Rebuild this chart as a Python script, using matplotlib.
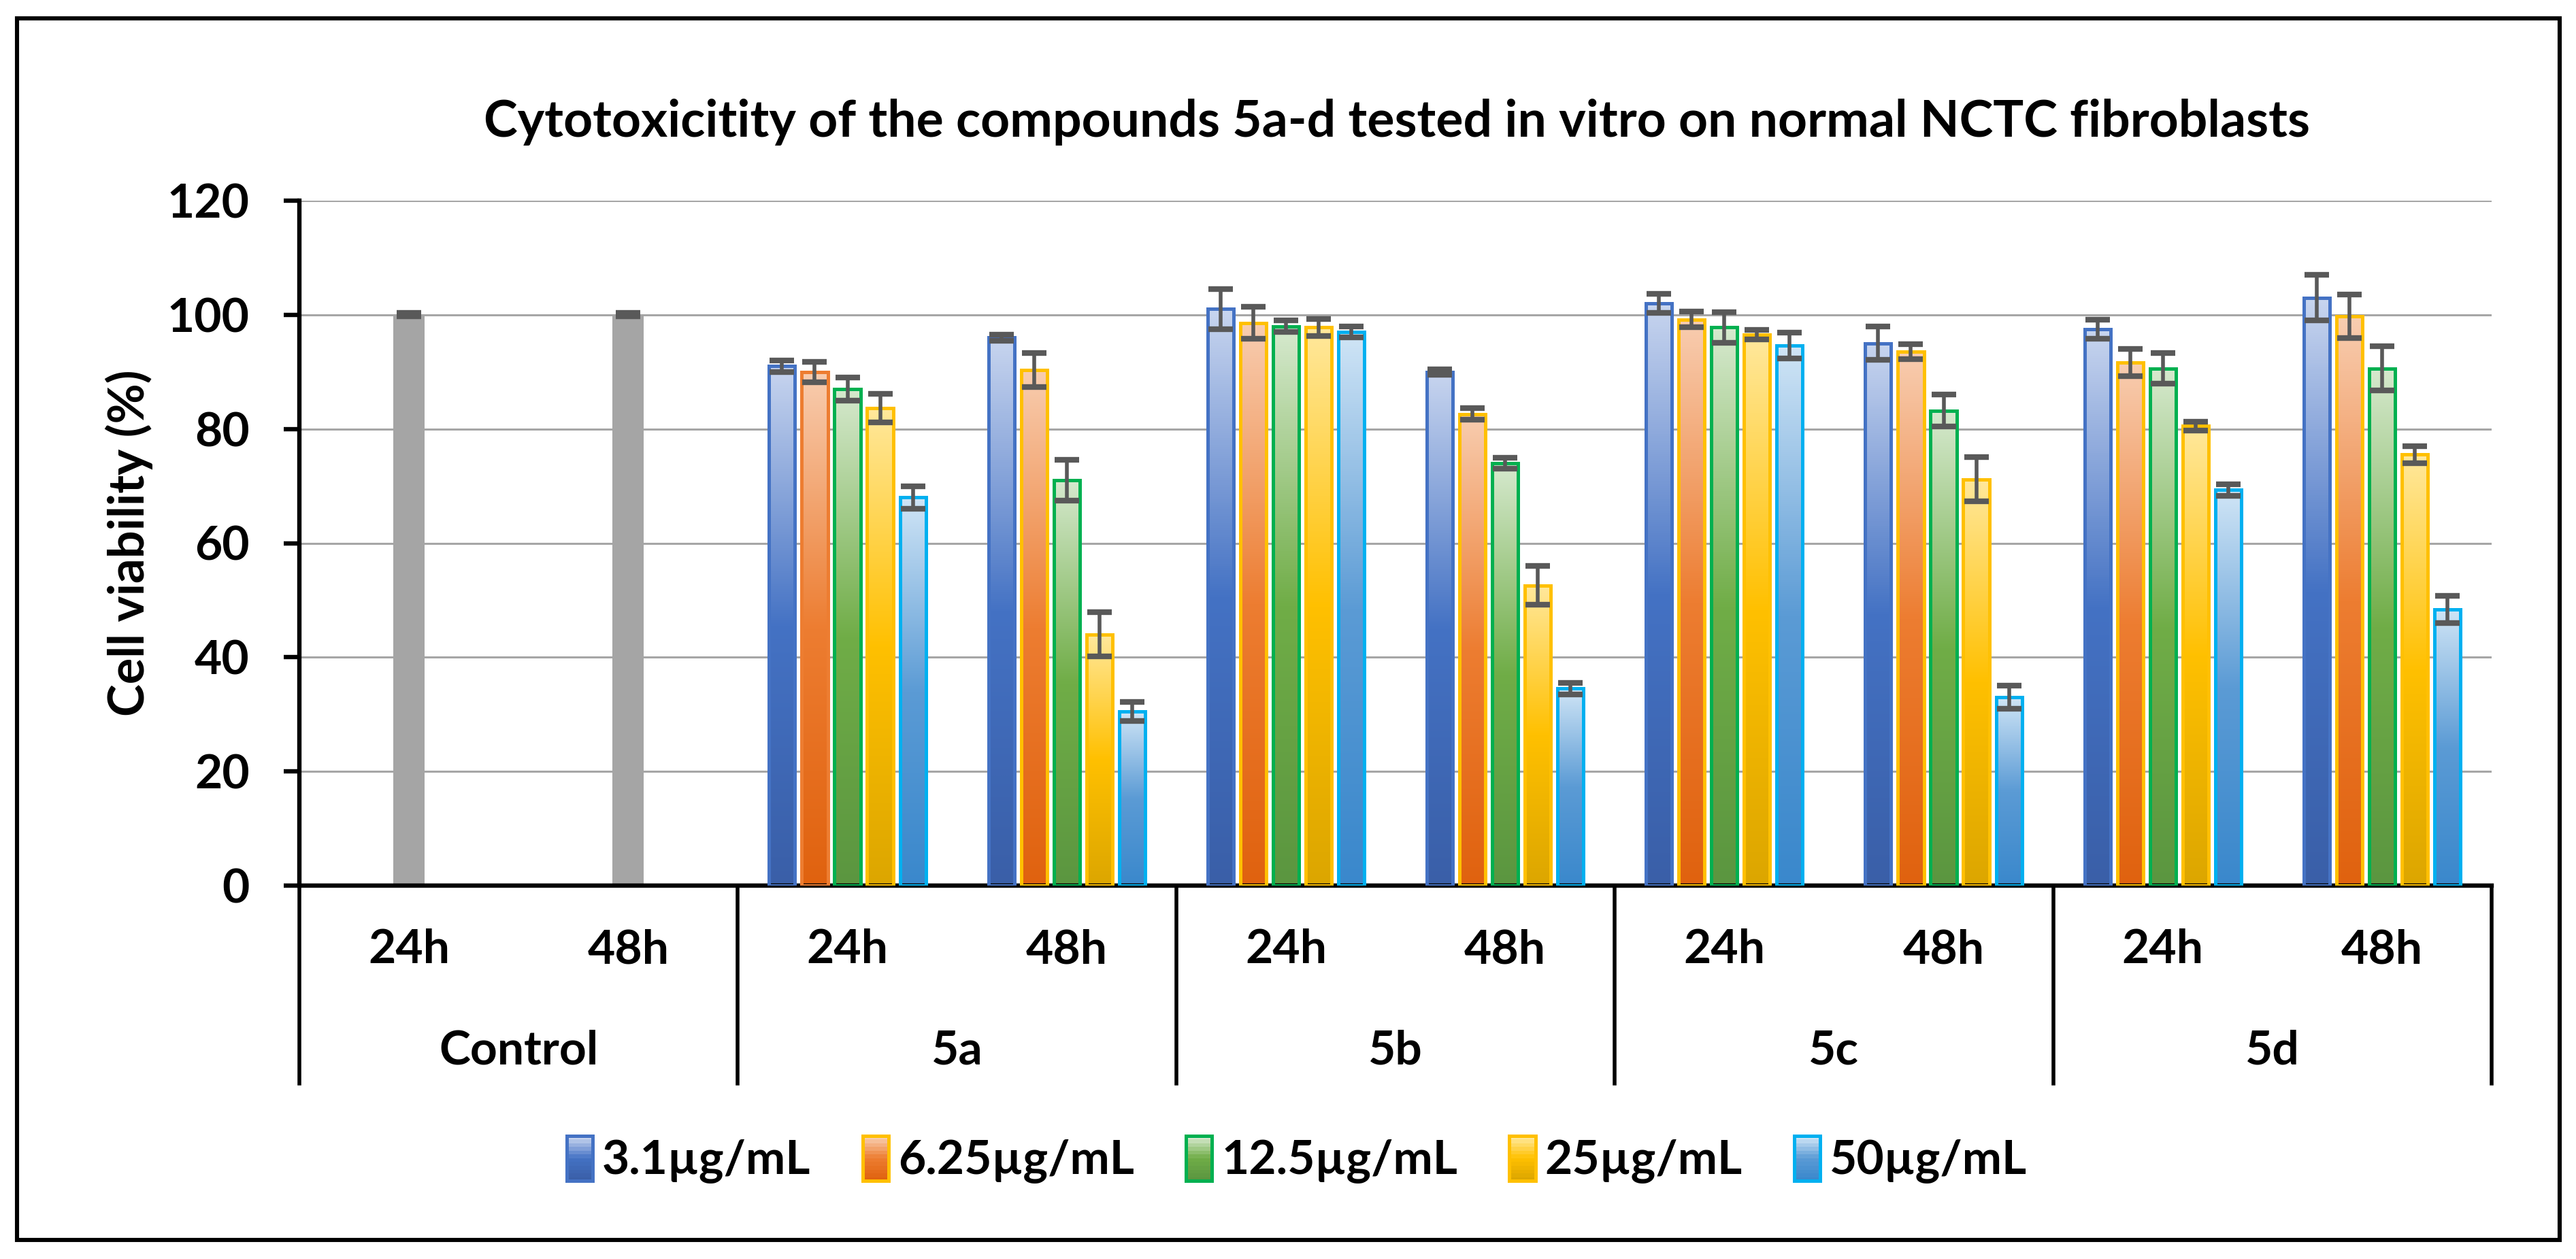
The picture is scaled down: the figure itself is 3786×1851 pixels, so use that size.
import numpy as np
import matplotlib
matplotlib.use('Agg')
from matplotlib import pyplot as plt
from matplotlib.colors import LinearSegmentedColormap
from matplotlib.patches import Rectangle
from matplotlib.legend_handler import HandlerBase
import matplotlib.transforms as mtransforms

plt.rcParams['font.family'] = ['Lato', 'DejaVu Sans']
plt.rcParams['font.weight'] = 'bold'

# Data
compounds = ['Control', '5a', '5b', '5c', '5d']
times = ['24h', '48h']
concentrations = ['3.1µg/mL', '6.25µg/mL', '12.5µg/mL', '25µg/mL', '50µg/mL']

control_vals = [100, 100]
control_err = [0.3, 0.3]

# order: 5a-24h, 5a-48h, 5b-24h, 5b-48h, 5c-24h, 5c-48h, 5d-24h, 5d-48h
v_3_1 = [91.0, 96.0, 101.0, 90.0, 102.0, 95.0, 97.5, 103.0]
e_3_1 = [1.0, 0.5, 3.5, 0.5, 1.7, 2.9, 1.7, 4.0]
v_6_25 = [90.0, 90.3, 98.6, 82.6, 99.2, 93.5, 91.6, 99.7]
e_6_25 = [1.8, 3.0, 2.8, 1.0, 1.4, 1.3, 2.4, 3.8]
v_12_5 = [87.0, 71.0, 98.0, 74.0, 97.8, 83.2, 90.6, 90.6]
e_12_5 = [2.0, 3.6, 1.0, 1.0, 2.7, 2.8, 2.7, 3.9]
v_25 = [83.6, 44.0, 97.8, 52.6, 96.5, 71.2, 80.5, 75.5]
e_25 = [2.5, 3.9, 1.5, 3.4, 0.8, 3.9, 0.8, 1.5]
v_50 = [68.0, 30.5, 97.0, 34.5, 94.6, 33.0, 69.3, 48.4]
e_50 = [2.0, 1.7, 1.0, 1.0, 2.3, 2.0, 1.0, 2.4]

series = [(v_3_1, e_3_1), (v_6_25, e_6_25), (v_12_5, e_12_5), (v_25, e_25), (v_50, e_50)]

# gradient stops bottom, middle, top
grad_colors = [
    ('#3A5FA8', '#4472C4', '#C8D5EF'),
    ('#E0620F', '#ED7D31', '#F8CDB0'),
    ('#5B9640', '#70AD47', '#D6E9CE'),
    ('#DCA600', '#FFC000', '#FFE89C'),
    ('#3A88CC', '#5B9BD5', '#D0E5F6'),
]
edge_colors = [
    '#4472C4',
    ['#ED7D31'] + ['#FFC000'] * 7,
    '#00B050',
    '#FFC000',
    '#00B0F0',
]
legend_edges = ['#4472C4', '#FFC000', '#00B050', '#FFC000', '#00B0F0']


class GradientSwatch:
    def __init__(self, idx):
        self.idx = idx


class GradientHandler(HandlerBase):
    # legend swatch drawn as stacked stripes to mimic the bar gradient
    def create_artists(self, legend, orig_handle, xdescent, ydescent, width, height, fontsize, trans):
        i = orig_handle.idx
        cmap = LinearSegmentedColormap.from_list('lg%d' % i, grad_colors[i])
        n = 12
        arts = []
        for k in range(n):
            r = Rectangle((-xdescent, -ydescent + height * k / n), width, height / n + 0.3,
                          facecolor=cmap(k / (n - 1)), edgecolor='none', transform=trans)
            arts.append(r)
        arts.append(Rectangle((-xdescent, -ydescent), width, height, facecolor='none',
                              edgecolor=legend_edges[i], linewidth=1.8, transform=trans))
        return arts


W, H = 3786, 1851
fig = plt.figure(figsize=(W / 200, H / 200), dpi=200)
ax = fig.add_axes([440 / W, 1 - 1302 / H, (3662 - 440) / W, (1302 - 295) / H])

slot = 0.149
bar_w = 0.118
grad = np.linspace(0, 1, 256).reshape(-1, 1)

# control bars
ax.bar(np.arange(2) + 0.5, control_vals, width=0.143, color='#A5A5A5', zorder=2)
ax.errorbar(np.arange(2) + 0.5, control_vals, yerr=control_err, fmt='none',
            ecolor='#595959', elinewidth=2.0, capsize=6.5, capthick=3.0, zorder=4)

comp_x = np.arange(2, 10) + 0.5
for i, (vals, errs) in enumerate(series):
    xs = comp_x + (i - 2) * slot
    bars = ax.bar(xs, vals, width=bar_w, facecolor='none', edgecolor=edge_colors[i],
                  linewidth=1.8, zorder=3)
    cmap = LinearSegmentedColormap.from_list('g%d' % i, grad_colors[i])
    for b in bars:
        x0 = b.get_x()
        im = ax.imshow(grad, cmap=cmap, extent=[x0, x0 + b.get_width(), 0, b.get_height()],
                       aspect='auto', origin='lower', zorder=2.5, interpolation='bilinear')
        im.set_clip_path(b)
    ax.errorbar(xs, vals, yerr=errs, fmt='none', ecolor='#595959', elinewidth=2.0,
                capsize=6.5, capthick=3.0, zorder=4)

ax.set_xlim(0, 10)
ax.set_ylim(0, 120)
ax.set_aspect('auto')
ax.set_yticks(range(0, 121, 20))
ax.set_xticks([])
ax.yaxis.grid(True, color='#A6A6A6', linewidth=1.1)
ax.set_axisbelow(True)
for s in ['top', 'right']:
    ax.spines[s].set_visible(False)
ax.spines['left'].set_linewidth(2.3)
ax.spines['bottom'].set_linewidth(2.3)
ax.tick_params(axis='y', length=8.3, width=2.3, pad=18, labelsize=25)

# y label placed directly in figure coords
fig.text(190 / W, 1 - 798 / H, 'Cell viability (%)', rotation=90, ha='center', va='center',
         fontsize=26, fontweight='bold')

# category axis: dividers and two-level labels
trans = mtransforms.blended_transform_factory(ax.transData, ax.transAxes)
for xd in range(0, 11, 2):
    ax.plot([xd, xd], [0, -0.289], transform=trans, color='black', lw=2.0, clip_on=False)
for k in range(10):
    ax.text(k + 0.5, -0.094, times[k % 2], transform=trans, ha='center', va='center',
            fontsize=25, fontweight='bold')
for g, name in enumerate(compounds):
    ax.text(2 * g + 1, -0.241, name, transform=trans, ha='center', va='center',
            fontsize=25, fontweight='bold')

fig.text(2053 / W, 1 - 180 / H,
         'Cytotoxicitity of the compounds 5a-d tested in vitro on normal NCTC fibroblasts',
         ha='center', va='center', fontsize=27, fontweight='bold')

handles = [GradientSwatch(i) for i in range(5)]
fig.legend(handles, concentrations, handler_map={GradientSwatch: GradientHandler()},
           loc='center', bbox_to_anchor=(1906 / W, 1 - 1705 / H),
           ncol=5, frameon=False, fontsize=25, handlelength=0.55, handleheight=1.1,
           handletextpad=0.2, columnspacing=1.1)

fig.patches.append(Rectangle((25 / W, 1 - 1823 / H), (3762 - 25) / W, (1823 - 27) / H,
                             transform=fig.transFigure, fill=False, edgecolor='black', lw=2.2))

fig.savefig('out.png', dpi=200)
